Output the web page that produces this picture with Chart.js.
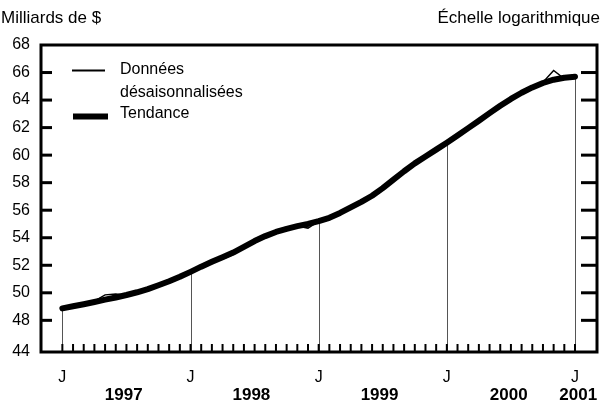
<!DOCTYPE html>
<html><head><meta charset="utf-8">
<script src="https://cdn.jsdelivr.net/npm/chart.js@4.4.0/dist/chart.umd.min.js"></script>
<style>html,body{margin:0;padding:0;background:#fff;}canvas{display:block;}</style>
</head><body>
<canvas id="c" width="611" height="409"></canvas>
<script>
const FONT = "'Liberation Sans', Arial, Helvetica, sans-serif";

// Monthly values, January 1997 (index 0) to January 2001 (index 48)
const donnees = [
  48.80, 49.05, 49.15, 49.40, 49.85, 49.92, 49.82, 50.02, 50.25, 50.58, 50.82, 51.10,
  51.55, 51.92, 52.20, 52.45, 52.78, 53.38, 53.80, 54.10, 54.45, 54.62, 54.86, 54.70,
  55.20, 55.48, 55.78, 56.22, 56.58, 57.00, 57.62, 58.25, 58.80, 59.42, 59.90, 60.38,
  60.85, 61.35, 62.00, 62.55, 63.10, 63.65, 64.10, 64.55, 64.95, 65.30, 66.15, 65.55,
  65.65
];
const tendance = [
  48.87, 49.02, 49.17, 49.33, 49.50, 49.66, 49.84, 50.04, 50.27, 50.55, 50.84, 51.16,
  51.52, 51.90, 52.25, 52.58, 52.92, 53.33, 53.76, 54.12, 54.42, 54.64, 54.84, 55.00,
  55.20, 55.45, 55.80, 56.20, 56.60, 57.05, 57.60, 58.22, 58.83, 59.40, 59.90, 60.40,
  60.90, 61.42, 61.96, 62.50, 63.05, 63.58, 64.08, 64.53, 64.92, 65.24, 65.48, 65.62,
  65.70
];
const seriesLabels = ['Données désaisonnalisées', 'Tendance'];
const legendLines = [['Données', 'désaisonnalisées'], ['Tendance']];
const janIndex = [0, 12, 24, 36, 48];
const janLabel = 'J';
const yearLabels = ['1997', '1998', '1999', '2000', '2001'];
const yearLabelPos = [5.75, 17.7, 29.7, 41.8, 48.3];
const yTicks = [48, 50, 52, 54, 56, 58, 60, 62, 64, 66, 68];
const yBottomLabel = '44';
const headerLeft = 'Milliards de $';
const headerRight = 'Échelle logarithmique';

const Y_MIN = 45.7, Y_MAX = 68;
const X_MIN = -2, X_MAX = 50.06;

const toXY = arr => arr.map((v, i) => ({ x: i, y: v }));

const deco = {
  id: 'deco',
  beforeDatasetsDraw(chart) {
    const { ctx, chartArea: a, scales: { x, y } } = chart;
    ctx.save();
    ctx.strokeStyle = '#555';
    ctx.lineWidth = 1;
    janIndex.forEach(i => {
      const px = Math.round(x.getPixelForValue(i)) + 0.5;
      ctx.beginPath();
      ctx.moveTo(px, a.bottom);
      ctx.lineTo(px, y.getPixelForValue(donnees[i]));
      ctx.stroke();
    });
    ctx.restore();
  },
  afterDraw(chart) {
    const { ctx, chartArea: a, scales: { x, y } } = chart;
    ctx.save();
    // y ticks inward, both sides
    ctx.strokeStyle = '#000';
    ctx.lineWidth = 3;
    yTicks.forEach(v => {
      if (v === Y_MAX) return;
      const py = y.getPixelForValue(v);
      ctx.beginPath(); ctx.moveTo(a.left, py); ctx.lineTo(a.left + 11, py); ctx.stroke();
      ctx.beginPath(); ctx.moveTo(a.right, py); ctx.lineTo(a.right - 16, py); ctx.stroke();
    });
    // monthly minor ticks
    ctx.lineWidth = 2;
    for (let i = 0; i < donnees.length; i++) {
      const px = x.getPixelForValue(i);
      ctx.beginPath(); ctx.moveTo(px, a.bottom); ctx.lineTo(px, a.bottom - 8); ctx.stroke();
    }
    // frame
    ctx.lineWidth = 3;
    ctx.strokeRect(a.left, a.top, a.right - a.left, a.bottom - a.top);
    // headers
    ctx.fillStyle = '#000';
    ctx.font = '17px ' + FONT;
    ctx.textBaseline = 'middle';
    ctx.textAlign = 'left';
    ctx.fillText(headerLeft, 1, 18);
    ctx.textAlign = 'right';
    ctx.fillText(headerRight, 600, 18);
    // legend
    ctx.font = '16px ' + FONT;
    const ds = chart.data.datasets;
    ctx.textAlign = 'left';
    ctx.lineCap = 'butt';
    ctx.lineWidth = ds[0].borderWidth + 0.5;
    ctx.beginPath(); ctx.moveTo(72, 70.5); ctx.lineTo(105, 70.5); ctx.stroke();
    ctx.fillText(legendLines[0][0], 120, 70);
    ctx.fillText(legendLines[0][1], 120, 93);
    ctx.lineWidth = ds[1].borderWidth;
    ctx.beginPath(); ctx.moveTo(73, 116.5); ctx.lineTo(108, 116.5); ctx.stroke();
    ctx.fillText(legendLines[1][0], 120, 113.5);
    ctx.restore();
  }
};

new Chart(document.getElementById('c'), {
  type: 'line',
  data: {
    datasets: [
      { label: seriesLabels[0], data: toXY(donnees), borderColor: '#000', borderWidth: 1.5,
        pointRadius: 0, tension: 0, fill: false },
      { label: seriesLabels[1], data: toXY(tendance), borderColor: '#000', borderWidth: 6,
        pointRadius: 0, tension: 0, fill: false, borderJoinStyle: 'round', borderCapStyle: 'round' }
    ]
  },
  options: {
    responsive: false,
    devicePixelRatio: 1,
    animation: false,
    layout: { padding: { top: 45, left: 0, right: 0, bottom: 0 } },
    plugins: { legend: { display: false }, tooltip: { enabled: false }, title: { display: false } },
    scales: {
      x: {
        type: 'linear', min: X_MIN, max: X_MAX, position: 'bottom', weight: 0,
        grid: { display: false, drawTicks: false }, border: { display: false },
        afterBuildTicks: s => { s.ticks = janIndex.map(v => ({ value: v })); },
        ticks: { callback: () => janLabel, font: { size: 16, family: FONT }, color: '#000',
                 padding: 16, maxRotation: 0, autoSkip: false },
        afterFit: s => { s.height = 31; }
      },
      x2: {
        type: 'linear', min: X_MIN, max: X_MAX, position: 'bottom', weight: 1,
        grid: { display: false, drawTicks: false }, border: { display: false },
        afterBuildTicks: s => { s.ticks = yearLabelPos.map(v => ({ value: v })); },
        ticks: { callback: (v, i) => yearLabels[i], font: { size: 17, weight: 'bold', family: FONT },
                 color: '#000', padding: 2, maxRotation: 0, autoSkip: false },
        afterFit: s => { s.height = 26; }
      },
      y: {
        type: 'linear', min: Y_MIN, max: Y_MAX, position: 'left',
        grid: { display: false, drawTicks: false }, border: { display: false },
        afterBuildTicks: s => { s.ticks = [{ value: Y_MIN }].concat(yTicks.map(v => ({ value: v }))); },
        ticks: { callback: v => (v === Y_MIN ? yBottomLabel : String(v)), font: { size: 16, family: FONT },
                 color: '#000', padding: 11, autoSkip: false },
        afterFit: s => { s.width = 41; }
      },
      y2: {
        type: 'linear', min: Y_MIN, max: Y_MAX, position: 'right',
        grid: { display: false, drawTicks: false }, border: { display: false },
        ticks: { display: false },
        afterFit: s => { s.width = 14; }
      }
    }
  },
  plugins: [deco]
});
</script>
</body></html>
